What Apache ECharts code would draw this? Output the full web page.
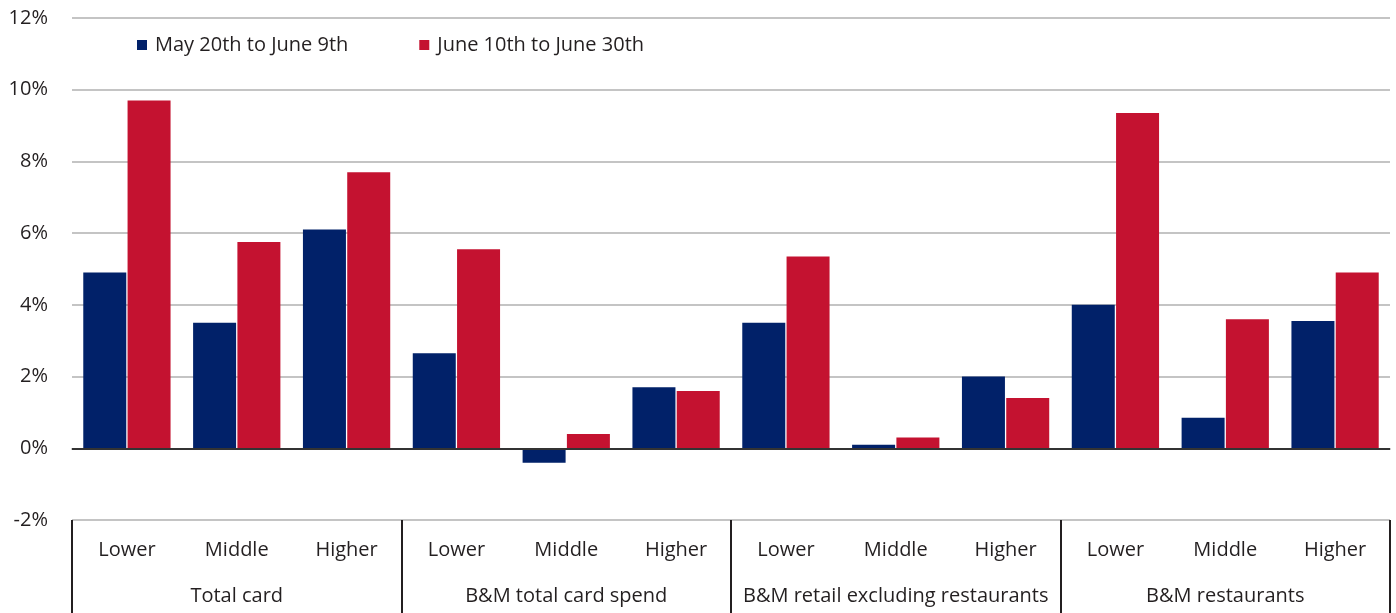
<!DOCTYPE html>
<html>
<head>
<meta charset="utf-8">
<script src="https://cdn.jsdelivr.net/npm/echarts@6/dist/echarts.min.js"></script>
<style>
  html, body { margin: 0; padding: 0; background: #fff; }
  #chart { width: 1396px; height: 613px; }
</style>
</head>
<body>
<div id="chart"></div>
<script>
// Income tiers within each spending group
const tiers = ['Lower', 'Middle', 'Higher', 'Lower', 'Middle', 'Higher', 'Lower', 'Middle', 'Higher', 'Lower', 'Middle', 'Higher'];
// Spending groups, three tiers each
const groups = ['Total card', 'B&M total card spend', 'B&M retail excluding restaurants', 'B&M restaurants'];
// Growth in spend per period (%)
const mayToJune = [4.9, 3.5, 6.1, 2.65, -0.4, 1.7, 3.5, 0.1, 2.0, 4.0, 0.85, 3.55];
const juneLate = [9.7, 5.75, 7.7, 5.55, 0.4, 1.6, 5.35, 0.3, 1.4, 9.35, 3.6, 4.9];
const seriesNames = ['May 20th to June 9th', 'June 10th to June 30th'];
const yTicks = { min: -2, max: 12, step: 2 };

const FONT = '"Open Sans", "Noto Sans", sans-serif';
const TEXT = '#231f20';
const NAVY = '#012169';
const RED = '#c41230';

const chart = echarts.init(document.getElementById('chart'));
chart.setOption({
  animation: false,
  textStyle: { fontFamily: FONT, color: TEXT },
  legend: {
    left: 132, top: 30,
    icon: 'rect', itemWidth: 10, itemHeight: 10, itemGap: 71,
    textStyle: { fontFamily: FONT, fontSize: 20, color: TEXT, padding: [0, 0, 0, 3] },
    data: seriesNames
  },
  grid: { left: 72, right: 6, top: 18, bottom: 93 },
  xAxis: [
    {
      type: 'category', data: tiers, position: 'bottom',
      axisLine: { show: true, lineStyle: { color: '#bfbfbf', width: 2 } },
      axisTick: { show: false },
      axisLabel: { margin: 20, fontSize: 20, color: TEXT, fontFamily: FONT, interval: 0 }
    },
    {
      type: 'category', data: groups, position: 'bottom',
      axisLine: { show: false },
      axisTick: { show: true, inside: false, length: 93, lineStyle: { color: '#231f20', width: 2 } },
      axisLabel: { margin: 66, fontSize: 20, color: TEXT, fontFamily: FONT, interval: 0 }
    }
  ],
  yAxis: {
    type: 'value', min: yTicks.min, max: yTicks.max, interval: yTicks.step,
    axisLine: { show: false }, axisTick: { show: false },
    splitLine: { lineStyle: { color: '#c4c4c4', width: 2 } },
    axisLabel: { formatter: '{value}%', fontSize: 20, color: TEXT, fontFamily: FONT, margin: 24 }
  },
  series: [
    {
      name: seriesNames[0], type: 'bar', data: mayToJune, xAxisIndex: 0,
      barWidth: 43, barGap: '3%',
      itemStyle: { color: NAVY },
      markLine: {
        silent: true, symbol: 'none', label: { show: false },
        lineStyle: { color: '#333', width: 2, type: 'solid' },
        data: [{ yAxis: 0 }]
      }
    },
    {
      name: seriesNames[1], type: 'bar', data: juneLate, xAxisIndex: 0,
      barWidth: 43,
      itemStyle: { color: RED }
    }
  ]
});
</script>
</body>
</html>
